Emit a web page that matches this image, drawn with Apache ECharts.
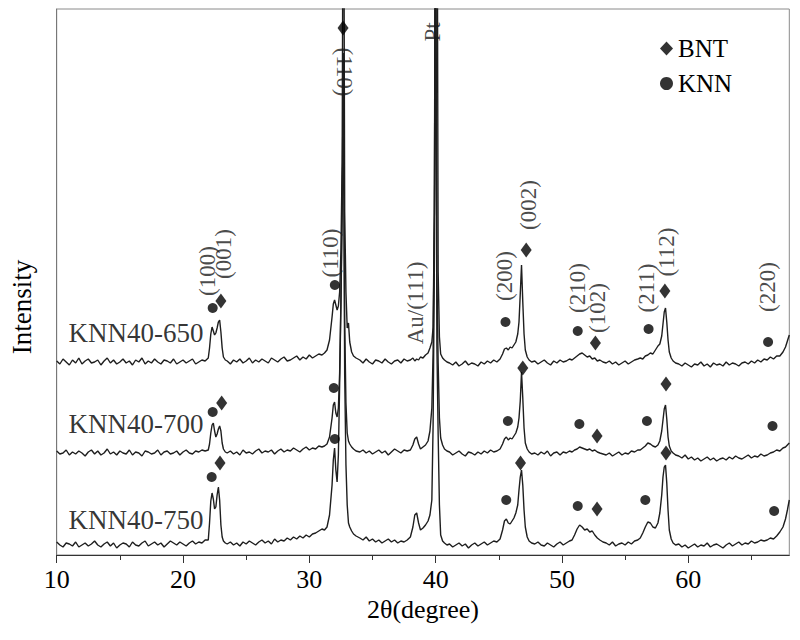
<!DOCTYPE html>
<html>
<head>
<meta charset="utf-8">
<script src="https://cdn.jsdelivr.net/npm/echarts@6/dist/echarts.min.js"></script>
<style>
  html, body { margin: 0; padding: 0; background: #fff; }
  #xrd { width: 800px; height: 640px; }
</style>
</head>
<body>
<div id="xrd"></div>
<script>
// 2θ sampling shared by the three patterns
const twoTheta = [
  10, 10.25, 10.5, 10.75, 11, 11.25, 11.5, 11.75, 12, 12.25, 12.5, 12.75, 13, 13.25, 13.5, 13.75,
  14, 14.25, 14.5, 14.75, 15, 15.25, 15.5, 15.75, 16, 16.25, 16.5, 16.75, 17, 17.25, 17.5, 17.75,
  18, 18.25, 18.5, 18.75, 19, 19.25, 19.5, 19.75, 20, 20.25, 20.5, 20.75, 21, 21.25, 21.5, 21.75,
  22, 22.1, 22.2, 22.3, 22.4, 22.5, 22.6, 22.7, 22.8, 22.9, 23, 23.1, 23.2, 23.35,
  23.5, 23.75, 24, 24.25, 24.5, 24.75, 25, 25.25, 25.5, 25.75, 26, 26.25, 26.5, 26.75, 27, 27.25,
  27.5, 27.75, 28, 28.25, 28.5, 28.75, 29, 29.25, 29.5, 29.75, 30, 30.25, 30.5, 30.75, 31,
  31.2, 31.4, 31.6, 31.8, 31.9, 32, 32.1, 32.2, 32.3, 32.4, 32.5, 32.6, 32.7, 32.8, 32.9, 33, 33.1, 33.2, 33.35, 33.5, 33.7,
  34, 34.25, 34.5, 34.75, 35, 35.25, 35.5, 35.75, 36, 36.25, 36.5, 36.75, 37, 37.25, 37.5, 37.75,
  38, 38.2, 38.35, 38.5, 38.65, 38.8, 39, 39.2, 39.4, 39.55, 39.7, 39.8, 39.9, 40, 40.1, 40.2, 40.3, 40.4, 40.55, 40.7, 40.9,
  41.1, 41.35, 41.6, 41.85, 42.1, 42.35, 42.6, 42.85, 43.1, 43.35, 43.6, 43.85, 44.1, 44.35, 44.6, 44.85,
  45.1, 45.3, 45.45, 45.6, 45.75, 45.9, 46.05, 46.2, 46.35, 46.5, 46.6, 46.7, 46.8, 46.9, 47, 47.1, 47.25, 47.4, 47.6,
  47.85, 48.1, 48.35, 48.6, 48.85, 49.1, 49.35, 49.6, 49.85, 50.1, 50.35, 50.6,
  50.8, 51, 51.2, 51.4, 51.6, 51.8, 52, 52.2, 52.4, 52.6, 52.8, 53, 53.25,
  53.5, 53.75, 54, 54.25, 54.5, 54.75, 55, 55.25, 55.5, 55.75, 56,
  56.2, 56.4, 56.6, 56.8, 57, 57.2, 57.4, 57.6, 57.75, 57.9, 58, 58.1, 58.2, 58.3, 58.4, 58.5, 58.65, 58.8, 59,
  59.25, 59.5, 59.75, 60, 60.25, 60.5, 60.75, 61, 61.25, 61.5, 61.75, 62, 62.25, 62.5, 62.75, 63,
  63.25, 63.5, 63.75, 64, 64.25, 64.5, 64.75, 65, 65.25, 65.5, 65.75, 66,
  66.25, 66.5, 66.75, 67, 67.25, 67.5, 67.7, 67.85, 68
];

// intensities (same sampling as twoTheta)
const knn650 = [
  1, -2, 3, 0, -3, 2, -1, 4, -2, 1, 3, -1, 0, 2, -3, 1, 4, -1, 2, -2, 0, 3, -1, 1,
  -3, 2, 0, 4, -2, 1, -1, 3, 0, -2, 2, 1, -1, 3, -2, 0, 2, -1, 1, 3, -2, 0, 2, 1,
  4, 14, 28, 35, 31, 27, 29, 34, 40, 42, 30, 14, 5, 2,
  1, -2, 2, 0, 3, -1, 1, 4, -1, 2, 0, 3, 1, -1, 4, 2, 0, 3, 5, 1, 2, 4, 6, 2, 5, 3, 7, 4, 6, 8, 7,
  9, 12, 22, 45, 58, 62, 57, 52, 56, 70, 110, 200, 620, 150, 70, 34, 39, 20, 10, 6, 4,
  2, -1, 3, 0, -2, 2, 1, -1, 3, 0, -2, 1, 2, -1, 3, 1,
  2, 4, 1, 3, 2, 5, 4, 7, 9, 14, 20, 35, 150, 620, 620, 90, 25, 8, 4, 2, 0,
  -1, -3, 0, -4, -2, 1, -3, -1, -2, -4, 0, -2, 1, -1, 2, 0,
  3, 8, 13, 14, 12, 15, 14, 17, 20, 28, 40, 68, 97, 60, 28, 12, 5, 2, 0,
  1, -2, 0, 2, -1, -3, 1, -1, 2, 0, 1, 3,
  2, 4, 6, 8, 9, 7, 5, 6, 3, 4, 1, 2, 0,
  -1, 1, -2, 0, -3, -1, 1, -2, 0, 2, 3,
  4, 3, 6, 7, 9, 8, 12, 16, 18, 26, 38, 50, 54, 40, 22, 10, 4, 1, -1,
  -2, -4, -1, -3, -5, -2, -3, 0, -4, -2, -5, -1, -3, -2, -4, 0, -3, -1, -2, -4, -1, 0, -2, 1, -1, 2, 0, 3,
  2, 5, 3, 6, 6, 10, 15, 21, 27
];
const knn700 = [
  2, -1, 0, 3, -2, 1, -1, 2, 0, -3, 1, 3, -1, 2, -2, 0, 4, -1, 1, -2, 2, 0, -1, 3,
  -2, 1, 0, -3, 2, 1, -1, 0, 3, -2, 1, 2, -1, 0, 2, -2, 1, 3, 0, -1, 2, 1, 3, 2,
  3, 9, 20, 28, 30, 22, 16, 19, 24, 27, 22, 10, 4, 1,
  0, 2, -1, 1, -2, 3, 0, 1, -1, 2, 4, 0, 2, 1, 3, -1, 2, 4, 1, 3, 2, 5, 3, 1, 4, 6, 3, 5, 4, 7, 6,
  7, 9, 16, 35, 48, 51, 40, 36, 45, 80, 150, 260, 400, 130, 50, 20, 12, 9, 6, 4, 2,
  1, 3, 0, 2, -1, 1, 3, 0, 2, -2, 1, 4, 2, 0, 3, 2,
  3, 8, 14, 16, 9, 4, 6, 8, 12, 22, 45, 100, 240, 620, 180, 90, 35, 15, 8, 4, 2,
  1, -2, 0, 2, -1, -3, 1, 0, -2, 1, -1, 2, 0, 3, 1, 2,
  4, 9, 14, 16, 13, 15, 14, 17, 20, 26, 35, 52, 81, 55, 25, 10, 4, 1, -1,
  0, -2, 1, -1, 2, -3, 0, 1, -2, 1, 0, 2,
  1, 3, 4, 6, 5, 4, 3, 4, 2, 3, 1, 0, -1,
  -2, 0, -3, -1, 1, -2, 0, -1, 2, 1, 3,
  3, 5, 7, 10, 9, 7, 6, 8, 12, 22, 33, 44, 48, 34, 16, 7, 2, 0, -2,
  -3, -5, -2, -6, -4, -7, -5, -8, -6, -4, -7, -5, -8, -6, -5, -7, -4, -6, -3, -5, -6, -4, -2, -5, -3, -4, -1, -3,
  -2, 0, 1, 3, 2, 5, 6, 8, 10
];
const knn750 = [
  3, 0, -2, 2, 1, -1, 3, -2, 0, 2, -1, 1, 4, 0, -2, 1, 3, -1, 2, -3, 0, 2, 1, -2,
  3, 0, -1, 2, 4, -1, 1, 3, 0, 2, -2, 1, 4, 2, 0, 3, 1, -1, 2, 4, 1, 3, 2, 5,
  5, 22, 44, 52, 46, 36, 38, 50, 58, 45, 20, 8, 4, 2,
  1, 3, 0, 2, -1, 3, 1, 4, 2, 0, 3, 5, 2, 4, 1, 6, 3, 5, 4, 7, 5, 8, 6, 9, 7, 10, 8, 11, 12, 14, 16,
  15, 18, 30, 60, 85, 97, 75, 63, 90, 160, 240, 330, 450, 170, 80, 40, 22, 18, 14, 11, 9,
  7, 5, 8, 4, 6, 3, 5, 2, 4, 6, 3, 5, 2, 4, 3, 5,
  8, 18, 30, 32, 22, 15, 17, 20, 24, 30, 45, 120, 280, 620, 200, 110, 40, 10, 4, 2, 0,
  1, -2, 0, 2, -1, 1, -3, 0, 2, -1, 1, 3, 0, 2, 4, 3,
  6, 15, 24, 26, 22, 21, 24, 27, 32, 40, 55, 68, 75, 60, 35, 18, 8, 4, 2,
  1, 3, 0, -1, 2, 0, -2, 1, 3, 0, 2, 4,
  5, 10, 16, 20, 18, 15, 16, 13, 14, 10, 7, 5, 3,
  2, 0, 3, -1, 1, 2, 0, 3, 1, 4, 5,
  7, 12, 18, 23, 22, 18, 17, 22, 32, 50, 68, 78, 80, 62, 35, 15, 6, 2, 0,
  1, -2, 0, -3, -1, 1, -2, 0, -1, 2, -2, 0, 1, -1, -3, 0, 2, -1, 1, 3, 0, 2, 1, 4, 2, 3, 5, 4,
  5, 7, 6, 9, 13, 18, 26, 35, 45
];

const sampleNames = ["KNN40-650", "KNN40-700", "KNN40-750"];
const patterns = [knn650, knn700, knn750];
const offsets = [193, 102, 10]; // vertical stacking of the patterns

// phase markers [2θ, stacked intensity]
const bntMarks = [
  [23.0, 254], [32.67, 527], [47.17, 305], [52.65, 212], [58.15, 264],
  [23.06, 152], [46.9, 187], [52.78, 119], [58.24, 171],
  [22.93, 92], [46.72, 92], [52.78, 46], [58.24, 102]
];
const knnMarks = [
  [22.35, 247], [32.02, 270], [45.53, 233], [51.25, 224], [56.86, 226], [66.32, 213],
  [22.35, 143], [31.94, 167], [45.72, 134], [51.38, 131], [56.73, 134], [66.67, 129],
  [22.27, 78], [32.02, 116], [45.59, 55], [51.25, 49], [56.6, 55], [66.8, 44]
];

// peak indices
const hklText = ["(100)", "(001)", "(110)", "(110)", "Pt", "Au/(111)", "(200)", "(002)",
  "(210)", "(102)", "(211)", "(112)", "(220)"];
const hklPos = [
  [21.9, 284], [23.24, 301], [31.7, 302], [32.81, 483], [39.77, 523], [38.42, 252],
  [45.45, 279], [47.35, 350], [51.23, 267], [52.81, 247], [56.68, 267], [58.26, 303], [66.25, 268]
];
const samplePos = [[21.74, 222], [21.74, 131], [21.74, 35]];

const serif = "Liberation Serif";
const ink = "#000";

let chart = echarts.init(document.getElementById("xrd"), null, { renderer: "svg" });

const lineSeries = patterns.map((vals, k) => ({
  name: sampleNames[k],
  type: "line",
  showSymbol: false,
  symbol: "none",
  clip: true,
  silent: true,
  lineStyle: { color: "#1e1e1e", width: 1.4 },
  data: twoTheta.map((t, i) => [t, vals[i] + offsets[k]]),
}));

chart.setOption({
  animation: false,
  backgroundColor: "#fff",
  grid: {
    left: 56.7,
    right: 10.7,
    top: 9,
    bottom: 85,
    show: true,
    borderColor: "#8a8a8a",
    borderWidth: 1,
  },
  legend: {
    data: [
      { name: "BNT", icon: "diamond" },
      { name: "KNN", icon: "circle" },
    ],
    orient: "vertical",
    left: 655,
    top: 31,
    itemWidth: 13,
    itemHeight: 14,
    itemGap: 10,
    selectedMode: false,
    textStyle: { fontFamily: serif, fontSize: 25, color: ink, lineHeight: 25 },
  },
  xAxis: [
    {
      type: "value",
      min: 10,
      max: 68,
      interval: 10,
      position: "bottom",
      axisLine: { lineStyle: { color: "#333", width: 1.2 } },
      axisTick: { length: 8, lineStyle: { color: "#333" }, customValues: [10, 20, 30, 40, 50, 60] },
      axisLabel: {
        customValues: [10, 20, 30, 40, 50, 60],
        margin: 11,
        fontFamily: serif,
        fontSize: 26,
        color: ink,
      },
      splitLine: { show: false },
      name: "2θ(degree)",
      nameLocation: "middle",
      nameGap: 38,
      nameTextStyle: { fontFamily: serif, fontSize: 26, color: ink },
    },
    {
      type: "value",
      min: 10,
      max: 68,
      interval: 5,
      position: "bottom",
      axisLine: { show: false },
      axisTick: { length: 5, lineStyle: { color: "#333" }, customValues: [15, 25, 35, 45, 55, 65] },
      axisLabel: { show: false },
      splitLine: { show: false },
    },
  ],
  yAxis: {
    type: "value",
    min: 0,
    max: 546,
    axisLine: { show: true, lineStyle: { color: "#777" } },
    axisTick: { show: false },
    axisLabel: { show: false },
    splitLine: { show: false },
  },
  graphic: [
    {
      type: "text",
      x: 22,
      y: 307,
      rotation: Math.PI / 2,
      style: {
        text: "Intensity",
        fontFamily: serif,
        fontSize: 27,
        fill: ink,
        align: "center",
        verticalAlign: "middle",
      },
    },
  ],
  series: [
    ...lineSeries,
    {
      name: "BNT",
      type: "scatter",
      symbol: "diamond",
      symbolSize: [11, 15],
      itemStyle: { color: "#000" },
      z: 5,
      data: bntMarks,
    },
    {
      name: "KNN",
      type: "scatter",
      symbol: "circle",
      symbolSize: 10,
      itemStyle: { color: "#000" },
      z: 5,
      data: knnMarks,
    },
    {
      name: "hkl",
      type: "scatter",
      symbolSize: 1,
      itemStyle: { color: "transparent" },
      silent: true,
      z: 6,
      label: {
        show: true,
        position: "inside",
        rotate: 90,
        fontFamily: serif,
        fontSize: 23,
        color: "#1a1a1a",
        formatter: (p) => p.name,
      },
      data: hklPos.map((p, i) => ({
        name: hklText[i],
        value: p,
        // the big (110) reflection is written the other way round
        label: i == 3 ? { rotate: -90 } : {},
      })),
    },
    {
      name: "samples",
      type: "scatter",
      symbolSize: 1,
      itemStyle: { color: "transparent" },
      silent: true,
      z: 6,
      label: {
        show: true,
        position: "left",
        distance: 1,
        fontFamily: serif,
        fontSize: 27,
        color: ink,
        formatter: (p) => p.name,
      },
      data: samplePos.map((p, i) => ({ name: sampleNames[i], value: p })),
    },
  ],
});
</script>
</body>
</html>
